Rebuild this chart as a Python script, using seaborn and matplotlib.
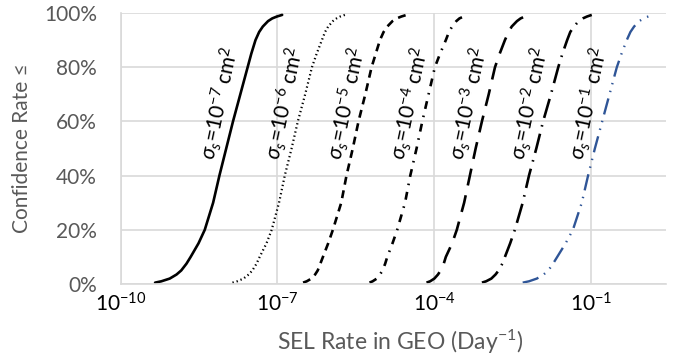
import matplotlib
matplotlib.use("Agg")
import matplotlib.pyplot as plt
import seaborn as sns
import numpy as np
import pandas as pd
from matplotlib.ticker import PercentFormatter, FixedLocator, NullLocator

# ---- data ----
levels = [0.5, 1, 2, 3.5, 5, 7.5, 10, 15, 20, 30, 40, 50, 60, 70, 80, 85, 90, 93, 95, 97, 98, 98.7, 99.3]  # confidence %
# log10 of SEL rate (Day^-1) at each confidence level
sig7 = [-9.34, -9.22, -9.06, -8.93, -8.84, -8.74, -8.66, -8.51, -8.39, -8.23, -8.11, -7.98, -7.85, -7.71, -7.57, -7.50, -7.42, -7.35, -7.28, -7.18, -7.10, -7.01, -6.91]
sig6 = [-7.86, -7.77, -7.65, -7.55, -7.48, -7.40, -7.34, -7.21, -7.11, -6.97, -6.86, -6.73, -6.61, -6.47, -6.34, -6.25, -6.15, -6.09, -6.03, -5.94, -5.87, -5.80, -5.71]
sig5 = [-6.51, -6.44, -6.35, -6.28, -6.23, -6.18, -6.13, -6.03, -5.94, -5.78, -5.68, -5.56, -5.45, -5.32, -5.20, -5.12, -5.04, -4.97, -4.90, -4.80, -4.72, -4.63, -4.53]
sig4 = [-5.24, -5.18, -5.10, -5.04, -4.99, -4.94, -4.90, -4.80, -4.71, -4.56, -4.46, -4.34, -4.23, -4.11, -3.99, -3.89, -3.78, -3.72, -3.66, -3.58, -3.52, -3.44, -3.36]
sig3 = [-4.15, -4.08, -4.00, -3.93, -3.88, -3.82, -3.78, -3.66, -3.57, -3.43, -3.32, -3.21, -3.09, -2.96, -2.84, -2.75, -2.65, -2.58, -2.52, -2.42, -2.35, -2.27, -2.17]
sig2 = [-3.09, -3.01, -2.91, -2.83, -2.77, -2.70, -2.65, -2.55, -2.46, -2.31, -2.19, -2.05, -1.92, -1.77, -1.63, -1.55, -1.46, -1.40, -1.33, -1.24, -1.16, -1.08, -0.99]
sig1 = [-2.31, -2.19, -2.04, -1.91, -1.82, -1.73, -1.65, -1.49, -1.35, -1.18, -1.06, -0.93, -0.79, -0.65, -0.51, -0.42, -0.32, -0.25, -0.18, -0.08, 0.00, 0.09, 0.19]
sigma_exps = ["-7", "-6", "-5", "-4", "-3", "-2", "-1"]
xtick_exps = [-10, -7, -4, -1]
ytick_vals = [0, 20, 40, 60, 80, 100]

curves = [sig7, sig6, sig5, sig4, sig3, sig2, sig1]

# ---- styles ----
styles = [
    dict(color="black", lw=1.9, ls="-"),
    dict(color="black", lw=1.6, ls=(0, (0.6, 1.3))),
    dict(color="black", lw=1.9, ls=(0, (3.0, 2.2))),
    dict(color="black", lw=1.9, ls=(0, (3.0, 2.6, 0.6, 2.6))),
    dict(color="black", lw=1.9, ls=(0, (6.5, 3.8))),
    dict(color="black", lw=1.9, ls=(0, (7.5, 2.8, 0.6, 2.8))),
    dict(color="#2F5597", lw=1.7, ls=(0, (7.0, 2.8, 0.6, 2.8, 0.6, 2.8))),
]

sns.set_theme(style="white")
plt.rcParams["font.family"] = ["Lato", "DejaVu Sans"]
plt.rcParams["mathtext.fontset"] = "custom"
plt.rcParams["mathtext.rm"] = "Lato"
plt.rcParams["mathtext.it"] = "Lato:italic"
plt.rcParams["mathtext.bf"] = "Lato:bold"

fig = plt.figure(figsize=(6.89, 3.58), dpi=100)
ax = fig.add_axes([0.175, 0.2067, 0.7916, 0.757])

for c, st in zip(curves, styles):
    df = pd.DataFrame({"rate": 10.0 ** np.array(c), "conf": levels})
    sns.lineplot(data=df, x="rate", y="conf", ax=ax, sort=False,
                 color=st["color"], linewidth=st["lw"], linestyle=st["ls"],
                 dash_capstyle="butt", solid_capstyle="round")

for c, e in zip(curves, sigma_exps):
    x50 = 10.0 ** (c[levels.index(50)] - 0.12)
    ax.text(x50, 66.5, r"$\sigma_s$=10$^{%s}$ cm$^{2}$" % e, rotation=78,
            ha="center", va="center", fontsize=15, color="black",
            rotation_mode="anchor")

ax.set_xscale("log")
ax.set_xlim(1e-10, 10 ** 0.43)
ax.set_ylim(0, 100)
ax.xaxis.set_major_locator(FixedLocator([10.0 ** e for e in xtick_exps]))
ax.xaxis.set_minor_locator(NullLocator())
ax.set_xticklabels([r"$10^{%d}$" % e for e in xtick_exps])
ax.set_yticks(ytick_vals)
ax.yaxis.set_major_formatter(PercentFormatter(100, decimals=0))

ax.grid(True, which="major", color="#d9d9d9", lw=1.2)
for s in ["top", "right"]:
    ax.spines[s].set_visible(False)
for s in ["left", "bottom"]:
    ax.spines[s].set_color("#d9d9d9")
    ax.spines[s].set_linewidth(1.2)

ax.tick_params(axis="y", length=0, pad=17, labelsize=15, labelcolor="#595959")
ax.tick_params(axis="x", length=0, pad=6, labelsize=15, labelcolor="black")

ax.set_xlabel("SEL Rate in GEO (Day$^{-1}$)", fontsize=16.5, color="#595959")
ax.set_ylabel("Confidence Rate ≤", fontsize=15, color="#595959")
ax.xaxis.set_label_coords(0.512, -0.16)
ax.yaxis.set_label_coords(-0.162, 0.5)

fig.savefig("out.png", dpi=100)
